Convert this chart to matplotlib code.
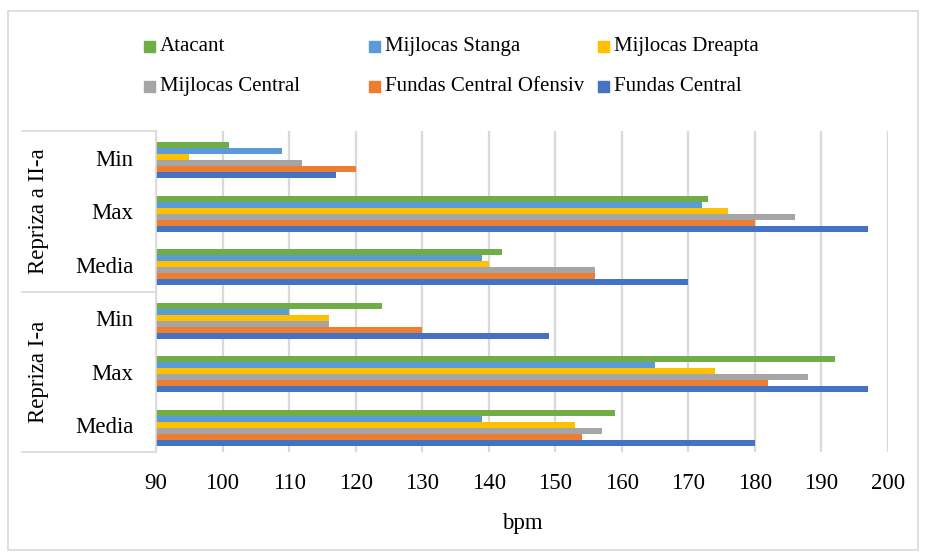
import matplotlib
matplotlib.use('Agg')
import matplotlib.pyplot as plt
import numpy as np
from matplotlib.patches import Rectangle

plt.rcParams['font.family'] = ['Liberation Serif', 'DejaVu Serif']

# categorii de jos in sus
categories = ['Media', 'Max', 'Min', 'Media', 'Max', 'Min']
groups = ['Repriza I-a', 'Repriza a II-a']

# serii (ordine de jos in sus in fiecare categorie)
series_names = ['Fundas Central', 'Fundas Central Ofensiv', 'Mijlocas Central',
                'Mijlocas Dreapta', 'Mijlocas Stanga', 'Atacant']
fundas_central = [180, 197, 149, 170, 197, 117]
fundas_ofensiv = [154, 182, 130, 156, 180, 120]
mijlocas_central = [157, 188, 116, 156, 186, 112]
mijlocas_dreapta = [153, 174, 116, 140, 176, 95]
mijlocas_stanga = [139, 165, 110, 139, 172, 109]
atacant = [159, 192, 124, 142, 173, 101]
series_values = [fundas_central, fundas_ofensiv, mijlocas_central,
                 mijlocas_dreapta, mijlocas_stanga, atacant]
colors = ['#4472C4', '#ED7D31', '#A5A5A5', '#FFC000', '#5B9BD5', '#70AD47']
xticks = list(range(90, 201, 10))

W, H = 925, 558
fig = plt.figure(figsize=(W / 100, H / 100), dpi=100)
ax = fig.add_axes([156 / W, 1 - 452 / H, (888 - 156) / W, (452 - 131) / H])

pos = np.arange(len(categories))
bh = 0.112
for i, (name, vals, c) in enumerate(zip(series_names, series_values, colors)):
    ax.barh(pos + (i - 2.5) * bh - 0.05, vals, height=bh, color=c, label=name, zorder=2)

ax.set_xlim(90, 200)
ax.set_ylim(-0.5, 5.5)
ax.set_xticks(xticks)
ax.set_yticks(pos, categories)
ax.tick_params(axis='both', length=0, labelsize=16.5)
ax.tick_params(axis='x', pad=15)
ax.tick_params(axis='y', pad=16)
ax.xaxis.grid(True, color='#d9d9d9', lw=1.6, zorder=0)
ax.set_axisbelow(True)
for s in ['top', 'right', 'bottom']:
    ax.spines[s].set_visible(False)
ax.spines['left'].set_color('#d9d9d9')
ax.spines['left'].set_linewidth(1.2)
ax.set_xlabel('bpm', fontsize=16.5, labelpad=14)

# etichete de grup si cutia din stanga
tr = ax.get_yaxis_transform()
x0 = (22 - 156) / 732
for y in [-0.5, 2.5, 5.5]:
    ax.plot([x0, 0], [y, y], color='#d9d9d9', lw=1.2, transform=tr, clip_on=False)
for k, g in enumerate(groups):
    ax.text((39 - 156) / 732, 3 * k + 1, g, rotation=90, ha='center', va='center',
            fontsize=16.5, transform=tr)

# legenda
leg_order = [5, 4, 3, 2, 1, 0]
leg_pos = [(144, 46.5), (369, 46.5), (598, 46.5), (144, 86.5), (369, 86.5), (598, 86.5)]
for k, (px, py) in zip(leg_order, leg_pos):
    fig.patches.append(Rectangle((px / W, 1 - (py + 5.5) / H), 11 / W, 11 / H,
                                 transform=fig.transFigure, color=colors[k]))
    fig.text((px + 16) / W, 1 - py / H, series_names[k], fontsize=15, va='center')

# chenar exterior
fig.patches.append(Rectangle((8 / W, 1 - 550 / H), 910 / W, 539 / H, transform=fig.transFigure,
                             fill=False, edgecolor='#d9d9d9', lw=1.2))

fig.savefig('out.png', dpi=100)
